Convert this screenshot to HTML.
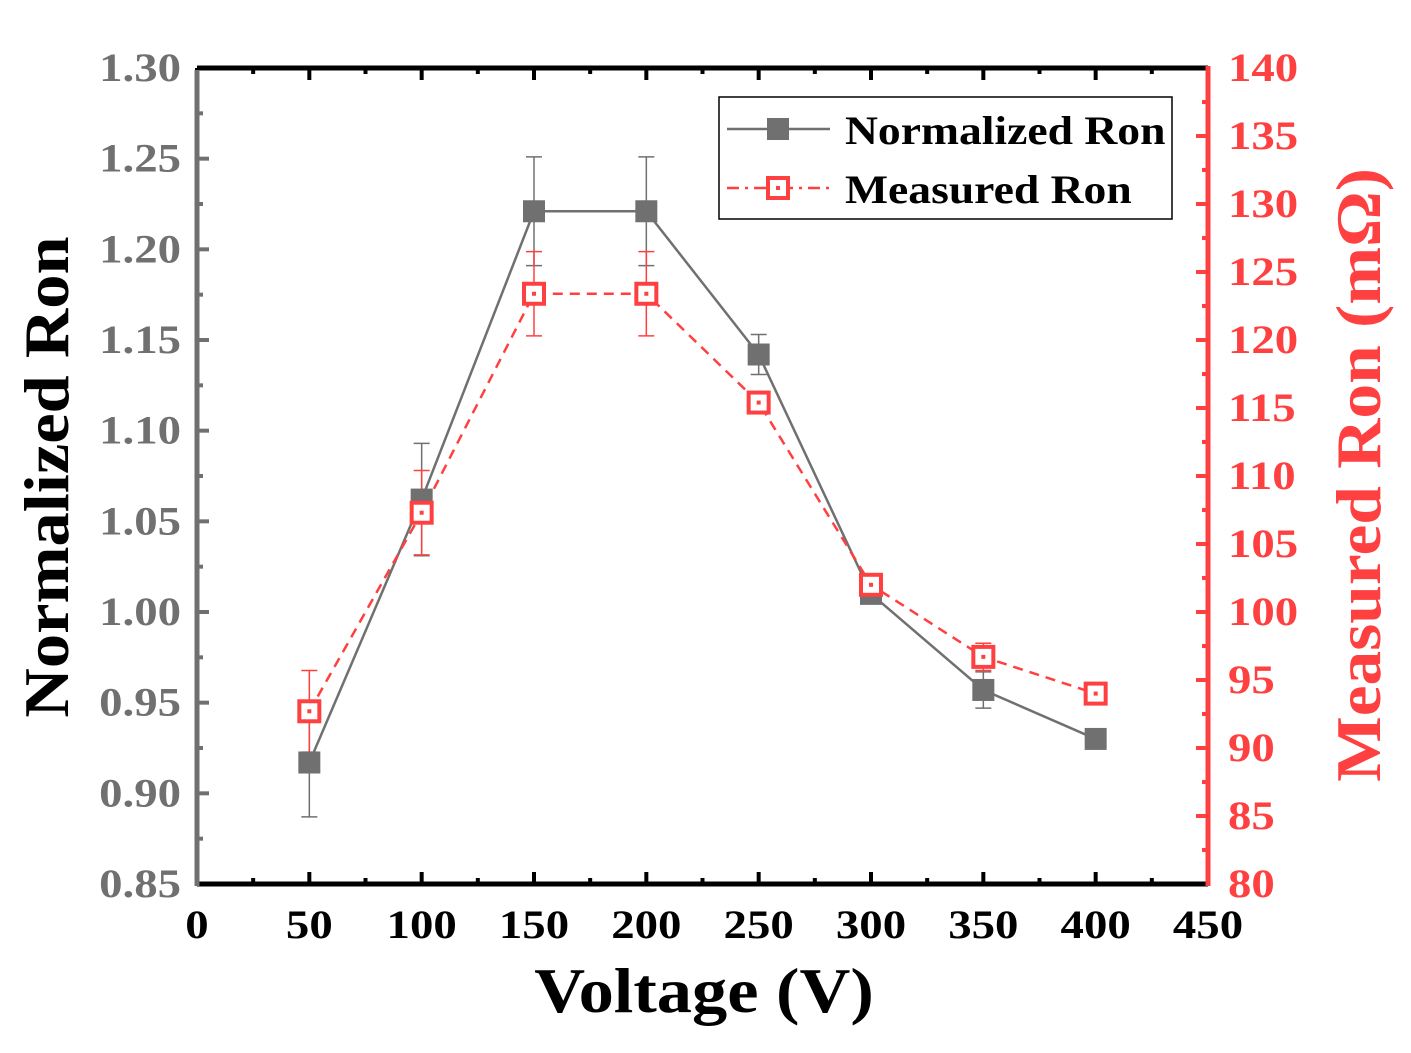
<!DOCTYPE html>
<html><head><meta charset="utf-8"><style>
body{margin:0;background:#fff;}
svg text{font-family:"Liberation Serif",serif;font-weight:bold;}
</style></head><body>
<svg id="chart" width="1411" height="1048" viewBox="0 0 1411 1048"></svg>
<script>
const voltages=[50,100,150,200,250,300,350,400];
const normRon=[0.917,1.062,1.221,1.221,1.142,1.010,0.957,0.930];
const normErr=[0.030,0.031,0.030,0.030,0.011,0.004,0.010,0.0];
const measRon=[92.7,107.3,123.4,123.4,115.4,102.0,96.7,94.0];
const measErr=[3.0,3.1,3.1,3.1,0.6,0.4,1.0,0.2];
const xTicks=[0,50,100,150,200,250,300,350,400,450];
const yLTicks=[0.85,0.90,0.95,1.00,1.05,1.10,1.15,1.20,1.25,1.30];
const yRTicks=[80,85,90,95,100,105,110,115,120,125,130,135,140];

const L=197,R=1208,T=68,B=884;
const xs=v=>L+(v-0)/(450-0)*(R-L);
const yl=v=>B-(v-0.85)/(0.45)*(B-T);
const yr=v=>B-(v-80)/60*(B-T);
const NS="http://www.w3.org/2000/svg";
const svg=document.getElementById('chart');
function mk(tag,attrs,parent){const e=document.createElementNS(NS,tag);for(const k in attrs)e.setAttribute(k,attrs[k]);(parent||svg).appendChild(e);return e;}
const GRAY='#707070',RED='#ff4040';

xTicks.forEach((v,i)=>{
  const x=xs(v);
  let t=mk('line',{x1:x,x2:x,y1:B,y2:B-12,stroke:'#000','stroke-width':4});
  
  mk('line',{x1:x,x2:x,y1:T,y2:T+12,stroke:'#000','stroke-width':4});
  if(i<xTicks.length-1){const m=xs(v+25);mk('line',{x1:m,x2:m,y1:B,y2:B-6,stroke:'#000','stroke-width':4});mk('line',{x1:m,x2:m,y1:T,y2:T+6,stroke:'#000','stroke-width':4});}
  let lb=mk('text',{x:x,y:B+54,'text-anchor':'middle','font-size':40,fill:'#000','data-sx':1.17});lb.textContent=v;
  
});
yLTicks.forEach((v,i)=>{
  const y=yl(v);
  mk('line',{x1:L,x2:L+12,y1:y,y2:y,stroke:GRAY,'stroke-width':4});
  if(i<yLTicks.length-1){const m=yl(v+0.025);mk('line',{x1:L,x2:L+6,y1:m,y2:m,stroke:GRAY,'stroke-width':4});}
  let lb=mk('text',{x:L-16,y:y+13,'text-anchor':'end','font-size':40,fill:GRAY,'data-sx':1.17});lb.textContent=v.toFixed(2);
  
});
yRTicks.forEach((v,i)=>{
  const y=yr(v);
  mk('line',{x1:R,x2:R-12,y1:y,y2:y,stroke:RED,'stroke-width':4});
  if(i<yRTicks.length-1){const m=yr(v+2.5);mk('line',{x1:R,x2:R-6,y1:m,y2:m,stroke:RED,'stroke-width':4});}
  let lb=mk('text',{x:R+20,y:y+13,'text-anchor':'start','font-size':40,fill:RED,'data-sx':1.17});lb.textContent=v;
  
});
let a;
a=mk('line',{x1:L,x2:R,y1:T,y2:T,stroke:'#000','stroke-width':5});
a=mk('line',{x1:L,x2:R,y1:B,y2:B,stroke:'#000','stroke-width':5});
a=mk('line',{x1:L,x2:L,y1:T+2,y2:B+2,stroke:GRAY,'stroke-width':5});
a=mk('line',{x1:R,x2:R,y1:T-2,y2:B+2,stroke:RED,'stroke-width':5});

voltages.forEach((v,i)=>{
  const x=xs(v);
  if(normErr[i]>0){const y1=yl(normRon[i]-normErr[i]),y2=yl(normRon[i]+normErr[i]);
    let e=mk('path',{d:`M${x},${y1}V${y2}M${x-8},${y1}H${x+8}M${x-8},${y2}H${x+8}`,stroke:GRAY,'stroke-width':1.5,fill:'none'});
    }
  const y1=yr(measRon[i]-measErr[i]),y2=yr(measRon[i]+measErr[i]);
  let e=mk('path',{d:`M${x},${y1}V${y2}M${x-8},${y1}H${x+8}M${x-8},${y2}H${x+8}`,stroke:RED,'stroke-width':1.5,fill:'none'});
  
});
let ln=mk('polyline',{points:voltages.map((v,i)=>xs(v)+','+yl(normRon[i])).join(' '),fill:'none',stroke:GRAY,'stroke-width':2.5});

ln=mk('polyline',{points:voltages.map((v,i)=>xs(v)+','+yr(measRon[i])).join(' '),fill:'none',stroke:RED,'stroke-width':2.5,'stroke-dasharray':'10,7'});

voltages.forEach((v,i)=>{
  const x=xs(v);
  let m=mk('rect',{x:x-11,y:yl(normRon[i])-11,width:22,height:22,fill:GRAY});
  
  const y=yr(measRon[i]);
  m=mk('rect',{x:x-10,y:y-10,width:20,height:20,fill:'#fff',stroke:RED,'stroke-width':4});
  
  mk('rect',{x:x-2,y:y-2,width:4,height:4,fill:RED});
});
const lg=mk('g',{});
mk('rect',{x:719,y:97,width:453,height:122,fill:'#fff',stroke:'#000','stroke-width':1.5},lg);
mk('line',{x1:727,x2:830,y1:129,y2:129,stroke:GRAY,'stroke-width':2.5},lg);
mk('rect',{x:767,y:118,width:22,height:22,fill:GRAY},lg);
let lt=mk('text',{x:845,y:144,'font-size':40,fill:'#000','data-sx':1.14},lg);lt.textContent='Normalized Ron';

mk('line',{x1:727,x2:830,y1:188,y2:188,stroke:RED,'stroke-width':2.5,'stroke-dasharray':'12,6,3,6'},lg);
mk('rect',{x:768,y:178,width:20,height:20,fill:'#fff',stroke:RED,'stroke-width':4},lg);
mk('rect',{x:776,y:186,width:4,height:4,fill:RED},lg);
lt=mk('text',{x:845,y:203,'font-size':40,fill:'#000','data-sx':1.14},lg);lt.textContent='Measured Ron';

let tt=mk('text',{x:704,y:1012,'text-anchor':'middle','font-size':64,fill:'#000','data-sx':1.1});tt.textContent='Voltage (V)';

tt=mk('text',{x:0,y:0,'text-anchor':'middle','font-size':64,fill:'#000','data-sx':1.07,transform:'translate(68,477) rotate(-90)'});tt.textContent='Normalized Ron';

tt=mk('text',{x:0,y:0,'text-anchor':'middle','font-size':64,fill:RED,'data-sx':1.085,transform:'translate(1380,475) rotate(-90)'});tt.textContent='Measured Ron (mΩ)';


document.querySelectorAll('text[data-sx]').forEach(t=>{
  const w=t.getComputedTextLength();
  t.setAttribute('textLength',w*parseFloat(t.getAttribute('data-sx')));
  t.setAttribute('lengthAdjust','spacingAndGlyphs');
});
</script>
</body></html>
